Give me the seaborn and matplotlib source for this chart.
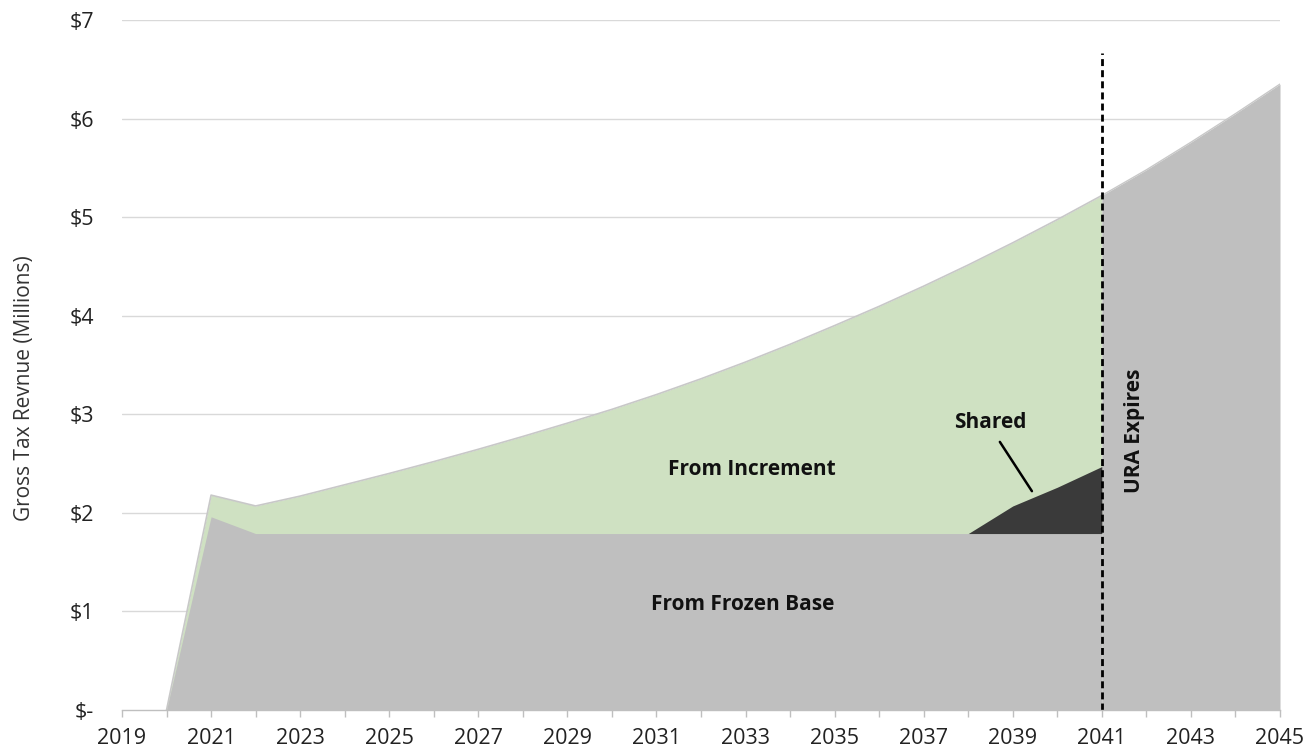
import numpy as np
import pandas as pd
import matplotlib
matplotlib.use("Agg")
import matplotlib.pyplot as plt
import seaborn as sns

# ---- data (millions of $) ----
years = [2020, 2021, 2022, 2023, 2024, 2025, 2026, 2027, 2028, 2029, 2030,
         2031, 2032, 2033, 2034, 2035, 2036, 2037, 2038, 2039, 2040, 2041,
         2042, 2043, 2044, 2045]
total_revenue = [0.0, 2.18, 2.07, 2.17, 2.285, 2.40, 2.52, 2.645, 2.775, 2.91, 3.05,
                 3.20, 3.36, 3.53, 3.71, 3.90, 4.095, 4.30, 4.515, 4.74, 4.975, 5.22,
                 5.48, 5.76, 6.05, 6.35]
frozen_base = [0.0, 1.96, 1.79, 1.79, 1.79, 1.79, 1.79, 1.79, 1.79, 1.79, 1.79,
               1.79, 1.79, 1.79, 1.79, 1.79, 1.79, 1.79, 1.79, 1.79, 1.79, 1.79]
shared_years = [2038, 2039, 2040, 2041]
shared_top = [1.79, 2.07, 2.26, 2.47]
ura_expiry = 2041
y_ticks = [0, 1, 2, 3, 4, 5, 6, 7]
y_tick_labels = ["$-", "$1", "$2", "$3", "$4", "$5", "$6", "$7"]
x_tick_labels = list(range(2019, 2046, 2))

df = pd.DataFrame({"year": years, "total": total_revenue})
n_ura = years.index(ura_expiry) + 1
df_ura = df.iloc[:n_ura].copy()
df_ura["base"] = frozen_base
df_post = df.iloc[n_ura - 1:].copy()
df_sh = pd.DataFrame({"year": shared_years, "top": shared_top})

sns.set_theme(style="white")
plt.rcParams["font.family"] = ["Open Sans", "DejaVu Sans"]

GREEN = "#CFE1C2"
GRAY = "#BFBFBF"
DARK = "#3A3A3A"

fig = plt.figure(figsize=(13.13, 7.54), dpi=100)
ax = fig.add_axes([122 / 1313, 1 - 710 / 754, (1280 - 122) / 1313, (710 - 20) / 754])

# gridlines
for v in y_ticks[1:]:
    ax.axhline(v, color="#D9D9D9", lw=1, zorder=0)

# increment (green) area
ax.fill_between(df_ura["year"], 0, df_ura["total"], color=GREEN, lw=0, zorder=1)
sns.lineplot(data=df_ura, x="year", y="total", ax=ax, color="#C8C8C8", lw=1.2, zorder=2)
# frozen base (gray)
ax.fill_between(df_ura["year"], 0, df_ura["base"], color=GRAY, lw=0, zorder=3)
# after URA expiry everything is gray
ax.fill_between(df_post["year"], 0, df_post["total"], color=GRAY, lw=0, zorder=3)
sns.lineplot(data=df_post, x="year", y="total", ax=ax, color="#C8C8C8", lw=1.0, zorder=3)
# shared
ax.fill_between(df_sh["year"], shared_top[0], df_sh["top"], color=DARK, lw=0, zorder=4)

# URA expiry line
ax.plot([ura_expiry, ura_expiry], [0, 6.67], color="black", lw=2, ls=(0, (2.5, 1.5)), zorder=6)

# labels
lbl = dict(ha="center", va="center", fontsize=15, fontweight="bold", color="#111111", zorder=7)
ax.text(2033.14, 2.44, "From Increment", **lbl)
ax.text(2032.94, 1.07, "From Frozen Base", **lbl)
ax.text(2038.5, 2.92, "Shared", **lbl)
ax.plot([2038.71, 2039.43], [2.72, 2.22], color="black", lw=1.8, zorder=7)
ax.text(2041.73, 2.83, "URA Expires", rotation=90, **lbl)

ax.set_xlim(2019, 2045)
ax.set_ylim(0, 7)
ax.set_yticks(y_ticks)
ax.set_yticklabels(y_tick_labels)
ax.set_xticks(x_tick_labels)
ax.set_xticklabels([str(x) for x in x_tick_labels])
ax.set_xticks(range(2019, 2046), minor=True)
ax.tick_params(axis="y", length=0, pad=20, labelsize=15.5, labelcolor="#222222")
ax.tick_params(axis="x", which="both", direction="out", length=5, width=1, color="#BFBFBF",
               pad=8, labelsize=15.5, labelcolor="#222222", bottom=True)
ax.set_xlabel("")
ax.set_ylabel("Gross Tax Revnue (Millions)", fontsize=15, color="#333333")
ax.yaxis.set_label_coords(-0.075, 0.466)

for s in ["top", "right", "left"]:
    ax.spines[s].set_visible(False)
ax.spines["bottom"].set_color("#BFBFBF")
ax.spines["bottom"].set_linewidth(1)
ax.spines["bottom"].set_zorder(8)

fig.savefig("out.png", dpi=100)
